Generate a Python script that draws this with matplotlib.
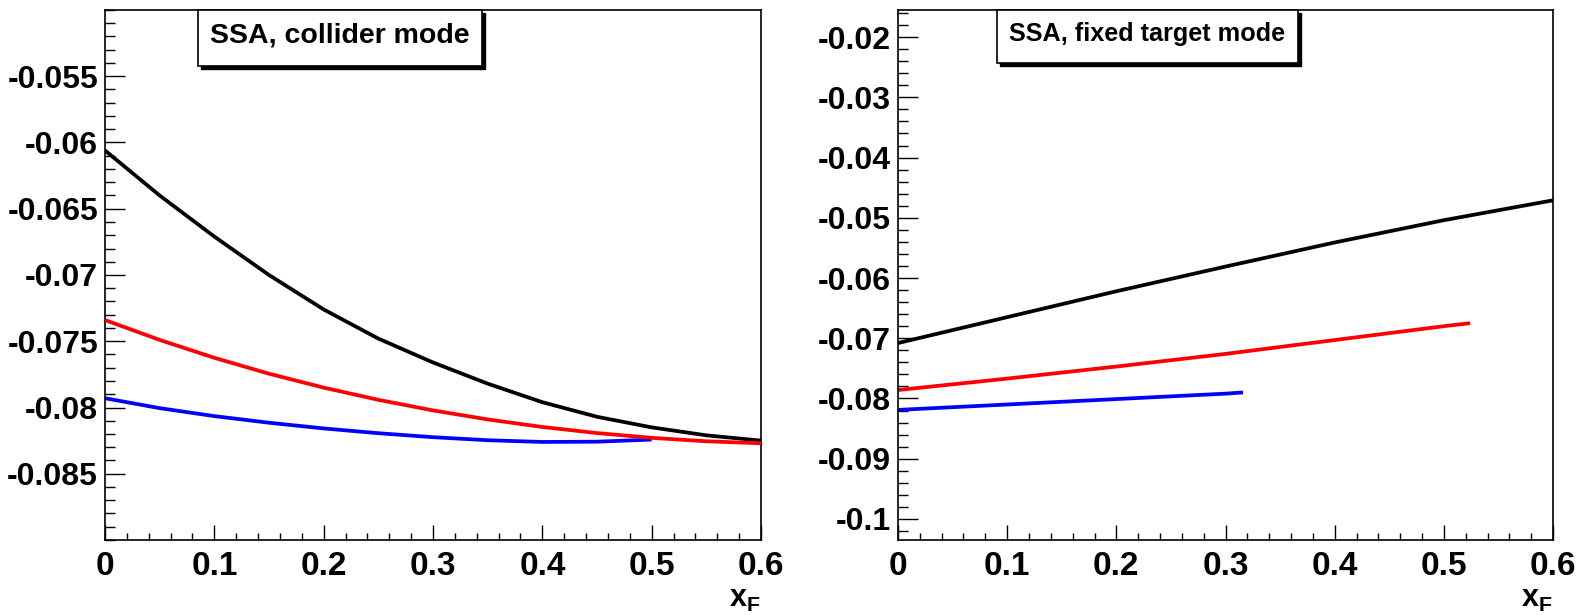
import matplotlib
matplotlib.use("Agg")
import matplotlib.pyplot as plt
from matplotlib.patches import Rectangle
from matplotlib.ticker import MultipleLocator

# ---------------- data ----------------
xf_left = [0.0, 0.05, 0.1, 0.15, 0.2, 0.25, 0.3, 0.35, 0.4, 0.45, 0.5, 0.55, 0.6]
black_left = [-0.0606, -0.0640, -0.0671, -0.0700, -0.0726, -0.0748, -0.0766,
              -0.0782, -0.0796, -0.0807, -0.0815, -0.0821, -0.0825]
red_left = [-0.0734, -0.0749, -0.07625, -0.07745, -0.0785, -0.07942, -0.08022,
            -0.0809, -0.08147, -0.08193, -0.08229, -0.08255, -0.0827]
xf_blue_left = [0.0, 0.05, 0.1, 0.15, 0.2, 0.25, 0.3, 0.35, 0.4, 0.45, 0.5]
blue_left = [-0.0793, -0.08005, -0.08065, -0.08115, -0.08158, -0.08194, -0.08224,
             -0.08247, -0.0826, -0.08258, -0.08242]

xf_black_right = [0.0, 0.1, 0.2, 0.3, 0.4, 0.5, 0.6]
black_right = [-0.0708, -0.0665, -0.0622, -0.0581, -0.0541, -0.0504, -0.0471]
xf_red_right = [0.0, 0.1, 0.2, 0.3, 0.4, 0.5, 0.524]
red_right = [-0.0786, -0.0767, -0.0747, -0.0726, -0.0703, -0.0680, -0.0675]
xf_blue_right = [0.0, 0.1, 0.2, 0.3, 0.316]
blue_right = [-0.0819, -0.0810, -0.0801, -0.0792, -0.0790]

left_yticks = [-0.085, -0.08, -0.075, -0.07, -0.065, -0.06, -0.055]
left_yticklabels = ["-0.085", "-0.08", "-0.075", "-0.07", "-0.065", "-0.06", "-0.055"]
right_yticks = [-0.1, -0.09, -0.08, -0.07, -0.06, -0.05, -0.04, -0.03, -0.02]
right_yticklabels = ["-0.1", "-0.09", "-0.08", "-0.07", "-0.06", "-0.05", "-0.04", "-0.03", "-0.02"]
xticks = [0, 0.1, 0.2, 0.3, 0.4, 0.5, 0.6]
xticklabels = ["0", "0.1", "0.2", "0.3", "0.4", "0.5", "0.6"]

titles = ["SSA, collider mode", "SSA, fixed target mode"]

# ---------------- style ----------------
FAM = ["Liberation Sans", "DejaVu Sans"]
plt.rcParams["font.family"] = FAM
plt.rcParams["font.weight"] = "bold"
plt.rcParams["mathtext.fontset"] = "custom"
plt.rcParams["mathtext.bf"] = "Liberation Sans:bold"
plt.rcParams["mathtext.rm"] = "Liberation Sans:bold"

W, H = 1577, 615
fig = plt.figure(figsize=(W / 100, H / 100), dpi=100)

def px_axes(x0, x1, ytop, ybot):
    return fig.add_axes([x0 / W, 1 - ybot / H, (x1 - x0) / W, (ybot - ytop) / H])

axL = px_axes(105, 761, 10, 540)
axR = px_axes(898, 1553, 10, 540)

LW = 2.7
axL.plot(xf_blue_left, blue_left, color="#0000ff", lw=LW, zorder=2, solid_capstyle="butt")
axL.plot(xf_left, black_left, color="black", lw=LW, zorder=3, solid_capstyle="butt")
axL.plot(xf_left, red_left, color="#ff0000", lw=LW, zorder=4, solid_capstyle="butt")

axR.plot(xf_black_right, black_right, color="black", lw=LW, solid_capstyle="butt")
axR.plot(xf_red_right, red_right, color="#ff0000", lw=LW, solid_capstyle="butt")
axR.plot(xf_blue_right, blue_right, color="#0000ff", lw=LW, solid_capstyle="butt")

axL.set_ylim(-0.09, -0.05)
axR.set_ylim(-0.1035, -0.0155)

for ax, yt, ytl, yminor in [(axL, left_yticks, left_yticklabels, 0.001),
                            (axR, right_yticks, right_yticklabels, 0.002)]:
    ax.set_xlim(0, 0.6)
    ax.set_xticks(xticks)
    ax.set_xticklabels(xticklabels)
    ax.xaxis.set_minor_locator(MultipleLocator(0.02))
    ax.set_yticks(yt)
    ax.set_yticklabels(ytl)
    ax.yaxis.set_minor_locator(MultipleLocator(yminor))
    ax.tick_params(axis="y", which="major", direction="in", length=14.4, width=1.0,
                   labelsize=23, pad=5, right=False)
    ax.tick_params(axis="y", which="minor", direction="in", length=7.2, width=1.0, right=False)
    ax.tick_params(axis="x", which="major", direction="in", length=10.8, width=1.0,
                   labelsize=24, pad=8, top=False)
    ax.tick_params(axis="x", which="minor", direction="in", length=5.2, width=1.0, top=False)
    for lab in ax.get_xticklabels() + ax.get_yticklabels():
        lab.set_fontweight("bold")
    for sp in ax.spines.values():
        sp.set_linewidth(1.2)
    ax.text(1.0, -0.083, r"$\mathbf{x_F}$", transform=ax.transAxes, ha="right", va="top",
            fontsize=22)

# title boxes with shadow
def box(ax, x0px, x1px, ytop, ybot, axx0, axx1, text, fs):
    aw = axx1 - axx0
    ah = 530.0
    bx0 = (x0px - axx0) / aw
    bw = (x1px - x0px) / aw
    by0 = 1 - (ybot - ytop) / ah
    bh = (ybot - ytop) / ah
    sx, sy = 3 / aw, 3 / ah
    ax.add_patch(Rectangle((bx0 + sx, by0 - sy), bw, bh, transform=ax.transAxes,
                           facecolor="black", edgecolor="black", clip_on=False, zorder=9))
    ax.add_patch(Rectangle((bx0, by0), bw, bh, transform=ax.transAxes,
                           facecolor="white", edgecolor="black", lw=1.2, clip_on=False, zorder=10))
    ax.text(bx0 + bw / 2, by0 + bh / 2 + 0.004, text, transform=ax.transAxes, ha="center",
            va="center", fontsize=fs, fontweight="bold", zorder=11)

box(axL, 198, 482, 10, 66, 105, 761, titles[0], 20.5)
box(axR, 997, 1298, 10, 63, 898, 1553, titles[1], 18.2)

fig.savefig("out.png", dpi=100)
